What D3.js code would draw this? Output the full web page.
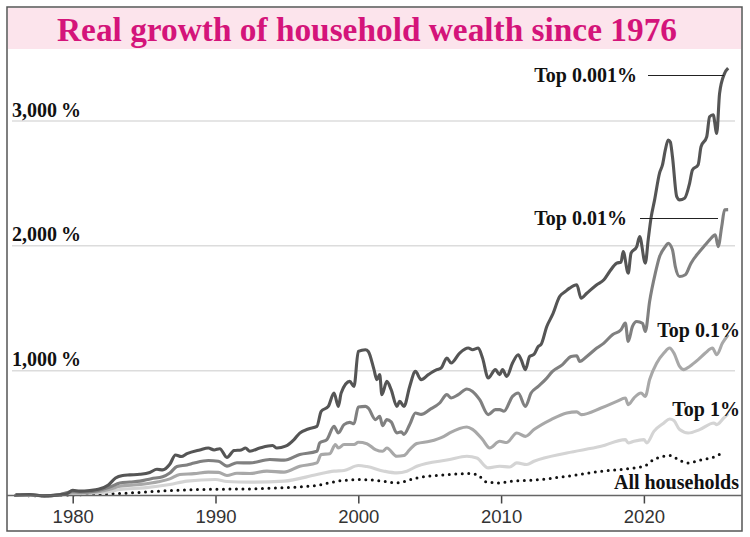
<!DOCTYPE html>
<html>
<head>
<meta charset="utf-8">
<script src="https://cdn.jsdelivr.net/npm/d3@7"></script>
<style>
  body { margin: 0; background: #fff; }
  svg { display: block; }
</style>
</head>
<body>
<svg id="chart" width="750" height="537"></svg>
<script>
// Real growth (%) since 1976 as [year, value]
const top0001 = [[1976,5],[1977,8],[1978,-3],[1979,5],[1979.6,15],[1980,42],[1980.5,35],[1981.2,40],[1981.8,50],[1982.5,85],[1983,140],[1983.5,160],[1984,165],[1984.7,170],[1985.4,185],[1985.9,210],[1986.3,205],[1986.8,250],[1987.2,325],[1987.6,312],[1988,335],[1988.9,365],[1989.5,380],[1989.9,365],[1990.3,375],[1990.8,305],[1991.3,360],[1991.8,365],[1992.1,380],[1992.4,355],[1993.1,380],[1994,400],[1994.3,380],[1994.9,395],[1995.5,448],[1995.9,500],[1996.5,533],[1997.1,554],[1997.4,674],[1997.9,714],[1998.3,821],[1998.6,714],[1998.8,821],[1999.4,914],[1999.7,874],[2000,1154],[2000.5,1168],[2000.7,1154],[2001.1,1008],[2001.3,928],[2001.5,968],[2001.65,808],[2002,914],[2002.3,848],[2002.7,714],[2002.9,754],[2003.2,714],[2003.6,874],[2004,994],[2004.4,928],[2004.9,968],[2005.5,1008],[2005.8,1021],[2006.2,1101],[2006.5,1061],[2007.1,1141],[2007.7,1181],[2008,1168],[2008.4,1181],[2008.7,1101],[2009.1,941],[2009.6,1008],[2009.9,968],[2010.1,1008],[2010.4,954],[2010.8,1061],[2011.2,1128],[2011.4,1090],[2011.7,1008],[2012,1114],[2012.3,1130],[2012.6,1194],[2012.8,1210],[2013.2,1354],[2013.6,1448],[2014.1,1594],[2014.5,1634],[2014.8,1661],[2015.3,1688],[2015.6,1581],[2016,1620],[2016.7,1688],[2017.2,1728],[2017.6,1794],[2018.1,1861],[2018.4,1870],[2018.55,1954],[2018.9,1781],[2019.1,1941],[2019.5,1994],[2019.7,2074],[2020.1,1861],[2020.3,2048],[2020.5,2224],[2020.75,2368],[2021.1,2584],[2021.3,2648],[2021.5,2768],[2021.7,2848],[2021.85,2832],[2022,2714],[2022.3,2394],[2022.5,2368],[2022.85,2381],[2023.2,2501],[2023.4,2608],[2023.8,2650],[2024,2794],[2024.4,2874],[2024.6,3034],[2024.85,3050],[2025.1,2901],[2025.3,3221],[2025.65,3381],[2025.9,3424]];

const top001 = [[1976,3],[1977,6],[1978,-3],[1979,4],[1980,32],[1980.5,28],[1981.5,35],[1982.6,68],[1983.3,100],[1984,108],[1984.7,115],[1985.5,135],[1986.3,150],[1986.8,180],[1987.3,232],[1988,245],[1988.5,260],[1989.5,280],[1990.2,275],[1990.8,235],[1991.5,262],[1992.4,261],[1993.8,288],[1994.8,283],[1995.9,328],[1997.1,354],[1997.3,421],[1997.8,448],[1998.3,554],[1998.6,501],[1999,568],[1999.4,586],[1999.7,575],[2000,709],[2000.5,714],[2000.7,700],[2001.2,608],[2001.5,634],[2001.7,560],[2002,608],[2002.3,590],[2002.7,501],[2003,510],[2003.2,490],[2003.6,568],[2004,661],[2004.4,650],[2005,688],[2005.7,741],[2006.2,808],[2006.5,781],[2007,808],[2007.6,853],[2008,834],[2008.5,768],[2009.1,648],[2009.6,688],[2009.9,688],[2010.2,675],[2010.8,794],[2011.2,821],[2011.7,714],[2012.1,821],[2012.6,874],[2013.1,928],[2013.6,994],[2014.3,1048],[2014.9,1114],[2015.3,1120],[2015.5,1074],[2016,1114],[2016.7,1181],[2017.2,1221],[2017.8,1288],[2018.4,1328],[2018.7,1381],[2018.9,1234],[2019.2,1354],[2019.5,1394],[2019.9,1380],[2020.1,1314],[2020.4,1554],[2020.8,1781],[2021.1,1914],[2021.5,1994],[2021.7,2021],[2022,1968],[2022.2,1834],[2022.5,1754],[2022.9,1768],[2023.3,1861],[2023.9,1954],[2024.3,2008],[2024.6,2048],[2025,2088],[2025.2,1994],[2025.45,2154],[2025.65,2288],[2025.9,2290]];

const top01 = [[1976,2],[1977,4],[1978,-3],[1979,3],[1980,25],[1981,25],[1982.6,50],[1983.3,74],[1984.7,88],[1986,110],[1986.8,133],[1987.5,168],[1988.5,175],[1989.5,187],[1990.2,185],[1990.8,160],[1991.5,178],[1992.4,176],[1993.6,195],[1994.8,187],[1995.9,234],[1997.1,261],[1997.4,328],[1998,335],[1998.4,408],[1998.6,380],[1999,408],[1999.7,408],[2000,426],[2000.6,415],[2001.2,368],[2001.7,354],[2002,380],[2002.7,314],[2003.2,320],[2003.6,368],[2004.1,416],[2005,434],[2006,474],[2006.4,501],[2007.6,549],[2008,530],[2008.7,448],[2009.2,381],[2009.9,434],[2010.4,425],[2011.1,501],[2011.7,474],[2012.3,528],[2013.5,608],[2014.6,661],[2015.3,670],[2015.6,648],[2017,701],[2018.1,754],[2018.7,781],[2018.9,728],[2019.3,781],[2019.8,821],[2020.1,794],[2020.4,928],[2020.9,1061],[2021.4,1141],[2021.8,1181],[2022.1,1141],[2022.5,1034],[2022.8,1008],[2023.2,1034],[2023.8,1088],[2024.3,1141],[2024.8,1181],[2025.1,1128],[2025.5,1221],[2025.9,1288]];

const top1 = [[1976,1],[1977,3],[1978,-2],[1979,2],[1980,15],[1981,18],[1982.6,30],[1983.3,48],[1985,61],[1986.8,88],[1988,115],[1990,128],[1990.8,112],[1992.4,107],[1994.8,115],[1997.1,168],[1998.3,195],[1999,200],[2000,240],[2000.6,232],[2001.8,195],[2002.7,181],[2003.4,195],[2004.1,234],[2006.4,288],[2007.6,314],[2008.3,300],[2009.1,221],[2009.9,234],[2010.6,228],[2011.1,261],[2011.8,248],[2012.3,274],[2014.6,341],[2017,394],[2018.7,448],[2018.9,421],[2019.3,435],[2020,448],[2020.2,421],[2020.7,514],[2021.4,581],[2021.8,613],[2022.1,600],[2022.5,528],[2023.1,501],[2023.9,528],[2024.9,581],[2025.1,568],[2025.6,621],[2025.9,655]];

const allHouseholds = [[1976,0],[1978,-2],[1980,5],[1982,10],[1984,20],[1986,35],[1988,45],[1990,50],[1992.4,53],[1994,60],[1996,70],[1997.1,80],[1998.5,114],[2000.1,128],[2001.8,114],[2002.7,101],[2004.1,141],[2006.4,168],[2007.6,176],[2008.3,168],[2009,107],[2009.9,101],[2010.6,114],[2012.3,123],[2014.6,154],[2017,194],[2019.3,221],[2020,234],[2020.7,288],[2021.4,314],[2021.9,320],[2022.4,288],[2023.1,261],[2023.9,282],[2024.9,309],[2025.5,341]];

const yearTicks = [1980, 1990, 2000, 2010, 2020];
const valueTicks = [1000, 2000, 3000];
const titleText = 'Real growth of household wealth since 1976';

const svg = d3.select('svg#chart');

// frame + title band
const frame = { left: 7, right: 742, top: 7, bottom: 531 };
svg.append('rect')
    .attr('x', frame.left + 1).attr('y', frame.top + 1)
    .attr('width', frame.right - frame.left - 2).attr('height', 41)
    .attr('fill', '#fce4ec');
svg.append('rect')
    .attr('x', frame.left).attr('y', frame.top)
    .attr('width', frame.right - frame.left).attr('height', frame.bottom - frame.top)
    .attr('fill', 'none').attr('stroke', '#555').attr('stroke-width', 1.5);
svg.append('text')
    .text(titleText)
    .attr('x', 57).attr('y', 41)
    .attr('font-family', 'Liberation Serif, serif')
    .attr('font-weight', 'bold')
    .attr('font-size', 33)
    .attr('textLength', 620)
    .attr('lengthAdjust', 'spacingAndGlyphs')
    .attr('fill', '#d4147a');

// scales
const x = d3.scaleLinear().domain([1980, 2020]).range([72.7, 643.9]);
const y = d3.scaleLinear().domain([0, 3000]).range([495.5, 121]);

// gridlines + value labels
valueTicks.forEach(v => {
    svg.append('line')
        .attr('x1', 12).attr('x2', 735)
        .attr('y1', y(v)).attr('y2', y(v))
        .attr('stroke', '#dcdcdc').attr('stroke-width', 1.5);
    svg.append('text')
        .text(d3.format(',')(v) + '\u2009%')
        .attr('x', 12).attr('y', y(v) - 4.5)
        .attr('font-family', 'Liberation Serif, serif')
        .attr('font-weight', 'bold')
        .attr('font-size', 20)
        .attr('fill', '#111');
});

// x axis
const xAxis = svg.append('g')
    .attr('transform', 'translate(0,' + y(0) + ')')
    .call(d3.axisBottom(x).tickValues(yearTicks).tickFormat(d3.format('d')).tickSize(8).tickPadding(6));
xAxis.select('.domain').remove();
xAxis.selectAll('.tick line').attr('stroke', '#444').attr('stroke-width', 1.5);
xAxis.selectAll('.tick text')
    .attr('font-family', 'Liberation Sans, sans-serif')
    .attr('font-size', 18.5)
    .attr('fill', '#333');

// lines, lightest first
const line = d3.line()
    .x(d => x(d[0]))
    .y(d => y(d[1]))
    .curve(d3.curveMonotoneX);

const series = [
    { data: top1, color: '#d4d4d4' },
    { data: top01, color: '#a8a8a8' },
    { data: top001, color: '#808080' },
    { data: top0001, color: '#555555' }
];

svg.append('path')
    .datum(allHouseholds)
    .attr('d', line)
    .attr('fill', 'none')
    .attr('stroke', '#111')
    .attr('stroke-width', 3)
    .attr('stroke-linecap', 'round')
    .attr('stroke-dasharray', '0,6.5');

series.forEach(s => {
    svg.append('path')
        .datum(s.data)
        .attr('d', line)
        .attr('fill', 'none')
        .attr('stroke', s.color)
        .attr('stroke-width', 3.1)
        .attr('stroke-linejoin', 'round');
});

svg.append('line')
    .attr('x1', frame.left).attr('x2', frame.right)
    .attr('y1', y(0)).attr('y2', y(0))
    .attr('stroke', '#666').attr('stroke-width', 1.5);

// labels
const labelFont = s => s
    .attr('font-family', 'Liberation Serif, serif')
    .attr('font-weight', 'bold')
    .attr('font-size', 20)
    .attr('fill', '#111');

svg.append('text').text('Top 0.001%').attr('x', 637).attr('y', 82).attr('text-anchor', 'end').call(labelFont);
svg.append('line').attr('x1', 648).attr('x2', 724).attr('y1', 75.5).attr('y2', 75.5).attr('stroke', '#222').attr('stroke-width', 1.2);
svg.append('text').text('Top 0.01%').attr('x', 627).attr('y', 225).attr('text-anchor', 'end').call(labelFont);
svg.append('line').attr('x1', 640).attr('x2', 718).attr('y1', 218.5).attr('y2', 218.5).attr('stroke', '#222').attr('stroke-width', 1.2);
svg.append('text').text('Top 0.1%').attr('x', 740).attr('y', 337).attr('text-anchor', 'end').call(labelFont);
svg.append('text').text('Top 1%').attr('x', 740).attr('y', 416).attr('text-anchor', 'end').call(labelFont);
svg.append('text').text('All households').attr('x', 739).attr('y', 489).attr('text-anchor', 'end').call(labelFont);
</script>
</body>
</html>
